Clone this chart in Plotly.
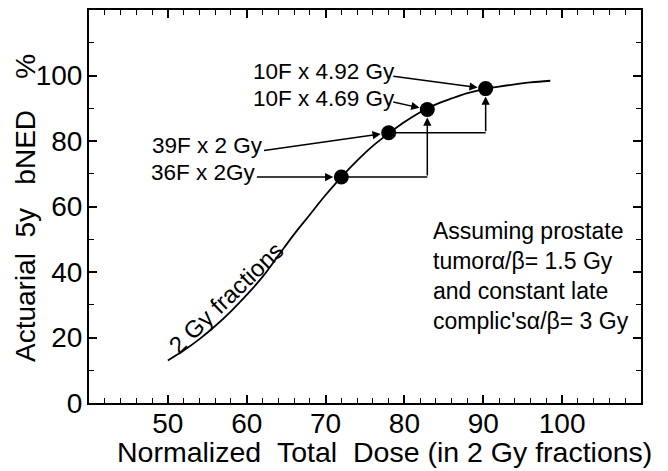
import plotly.graph_objects as go

# ---- data ----
curve_dose = [50, 52, 54, 56, 58, 60, 62, 64, 66, 68, 70, 72, 74, 76, 78, 80,
              82, 84, 86, 88, 90, 92, 94, 96, 98.5]
curve_bned = [13, 16, 19.5, 23.5, 28, 33, 38.5, 45, 51.5, 57.5, 63.5, 69, 74,
              78.5, 82.3, 85.8, 88.8, 91.2, 93, 94.6, 95.8, 96.6, 97.3, 97.9, 98.4]

dot_dose = [72, 78, 82.9, 90.3]
dot_bned = [69, 82.5, 89.6, 96]

labels = ["36F x 2Gy", "39F x 2 Gy", "10F x 4.69 Gy", "10F x 4.92 Gy"]
label_x = [61.4, 62.3, 79.0, 79.0]        # right end of each label
label_y = [70.5, 78.6, 93.1, 101.1]       # vertical centre of each label
tail_x = [61.1, 62.0, 78.4, 78.4]         # arrow tails
tail_y = [69.0, 77.0, 92.0, 99.8]

x_ticks = [50, 60, 70, 80, 90, 100]
y_ticks = [0, 20, 40, 60, 80, 100]

FONT = "Liberation Sans, Arial, sans-serif"

fig = go.Figure()
fig.add_trace(go.Scatter(x=curve_dose, y=curve_bned, mode="lines",
                         line=dict(color="black", width=1.8, shape="spline"),
                         hoverinfo="skip", showlegend=False))
fig.add_trace(go.Scatter(x=dot_dose, y=dot_bned, mode="markers",
                         marker=dict(color="black", size=15),
                         showlegend=False))

ann = []
shapes = []
for i in range(4):
    ann.append(dict(x=label_x[i], y=label_y[i], xref="x", yref="y", text=labels[i],
                    showarrow=False, xanchor="right", yanchor="middle",
                    font=dict(family=FONT, size=22.5, color="black")))
    ann.append(dict(x=dot_dose[i], y=dot_bned[i], ax=tail_x[i], ay=tail_y[i],
                    xref="x", yref="y", axref="x", ayref="y", text="",
                    showarrow=True, arrowhead=2, arrowsize=1.1, arrowwidth=1.5,
                    arrowcolor="black", standoff=8))

for a, b in [(0, 2), (1, 3)]:
    shapes.append(dict(type="line", xref="x", yref="y",
                       x0=dot_dose[a], y0=dot_bned[a], x1=dot_dose[b], y1=dot_bned[a],
                       line=dict(color="black", width=1.5)))
    ann.append(dict(x=dot_dose[b], y=dot_bned[b], ax=dot_dose[b], ay=dot_bned[a],
                    xref="x", yref="y", axref="x", ayref="y", text="",
                    showarrow=True, arrowhead=2, arrowsize=1.1, arrowwidth=1.5,
                    arrowcolor="black", standoff=8))

ann.append(dict(x=57.4, y=32.2, xref="x", yref="y", text="2 Gy fractions",
                showarrow=False, textangle=-44,
                font=dict(family=FONT, size=24, color="black")))

ann.append(dict(x=0.62, y=0.322, xref="paper", yref="paper",
                text="Assuming prostate<br>tumor\u03b1/\u03b2= 1.5 Gy<br>and constant late<br>complic's\u03b1/\u03b2= 3 Gy",
                showarrow=False, xanchor="left", yanchor="middle", align="left",
                font=dict(family=FONT, size=23, color="black")))

ann.append(dict(x=0.535, y=-0.125, xref="paper", yref="paper",
                text="Normalized\u00a0\u00a0Total\u00a0\u00a0Dose (in 2 Gy fractions)",
                showarrow=False, xanchor="center", yanchor="middle",
                font=dict(family=FONT, size=28.5, color="black")))
ann.append(dict(x=-0.116, y=0.496, xref="paper", yref="paper",
                text="Actuarial\u00a0\u00a05y\u00a0\u00a0\u00a0bNED\u00a0\u00a0\u00a0\u00a0%",
                showarrow=False, textangle=-90, xanchor="center", yanchor="middle",
                font=dict(family=FONT, size=28, color="black")))

fig.update_layout(
    width=660, height=463, autosize=False,
    margin=dict(l=81, r=27, t=0, b=68),
    paper_bgcolor="white", plot_bgcolor="white",
    annotations=ann, shapes=shapes,
    font=dict(family=FONT, color="black"),
)
fig.update_xaxes(range=[40, 110], tickvals=x_ticks, ticks="inside", ticklen=8,
                 tickwidth=1.5, tickcolor="black", showline=True, linecolor="black",
                 linewidth=2, mirror="allticks", showgrid=False, zeroline=False,
                 ticklabelstandoff=-6,
                 tickfont=dict(family=FONT, size=28, color="black"),
                 minor=dict(dtick=2, tick0=40, ticks="inside", ticklen=5,
                            tickwidth=1.2, tickcolor="black", showgrid=False))
fig.update_yaxes(range=[0, 120], tickvals=y_ticks, ticks="inside", ticklen=8,
                 tickwidth=1.5, tickcolor="black", showline=True, linecolor="black",
                 linewidth=2, mirror="allticks", showgrid=False, zeroline=False,
                 ticklabelstandoff=-1,
                 tickfont=dict(family=FONT, size=28, color="black"),
                 minor=dict(dtick=10, tick0=0, ticks="inside", ticklen=5,
                            tickwidth=1.2, tickcolor="black", showgrid=False))

fig.write_html("out.html")
